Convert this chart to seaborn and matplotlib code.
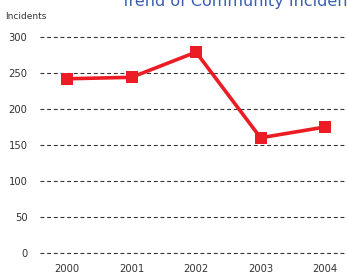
import pandas as pd
import matplotlib.pyplot as plt
import seaborn as sns

sns.set_style("white")
plt.rcParams['font.family'] = ['DejaVu Sans']

# data
years = ["2000", "2001", "2002", "2003", "2004"]
incidents = [242, 244, 279, 160, 175]
yticks = [0, 50, 100, 150, 200, 250, 300]

df = pd.DataFrame({"Year": years, "Incidents": incidents})

fig = plt.figure(figsize=(3.47, 2.75), dpi=100)
ax = fig.add_axes([0.115, 0.04, 0.885, 0.86])

sns.lineplot(data=df, x="Year", y="Incidents", ax=ax, color="#ec1c24",
             linewidth=2.6, marker="s", markersize=8, markeredgewidth=0,
             sort=False)

ax.set_xlim(-0.42, 4.34)
ax.set_ylim(-15.3, 313.2)
ax.set_yticks(yticks)
for y in yticks:
    ax.axhline(y, color="#333333", linestyle=(0, (3.5, 2.5)), linewidth=0.8, zorder=0)

for s in ax.spines.values():
    s.set_visible(False)
ax.set_xlabel("")
ax.set_ylabel("")
ax.tick_params(axis="both", length=0, labelsize=7.2, colors="#333333")
ax.tick_params(axis="y", pad=9)
ax.tick_params(axis="x", pad=0)
for lbl in ax.get_yticklabels():
    lbl.set_horizontalalignment("right")

fig.text(0.015, 0.94, "Incidents", fontsize=6.5, color="#333333", ha="left", va="center")
fig.text(0.35, 0.978, "Trend of Community Incidents", fontsize=11.5, color="#3a5fae",
         ha="left", va="baseline")

fig.savefig("out.png", dpi=100)
